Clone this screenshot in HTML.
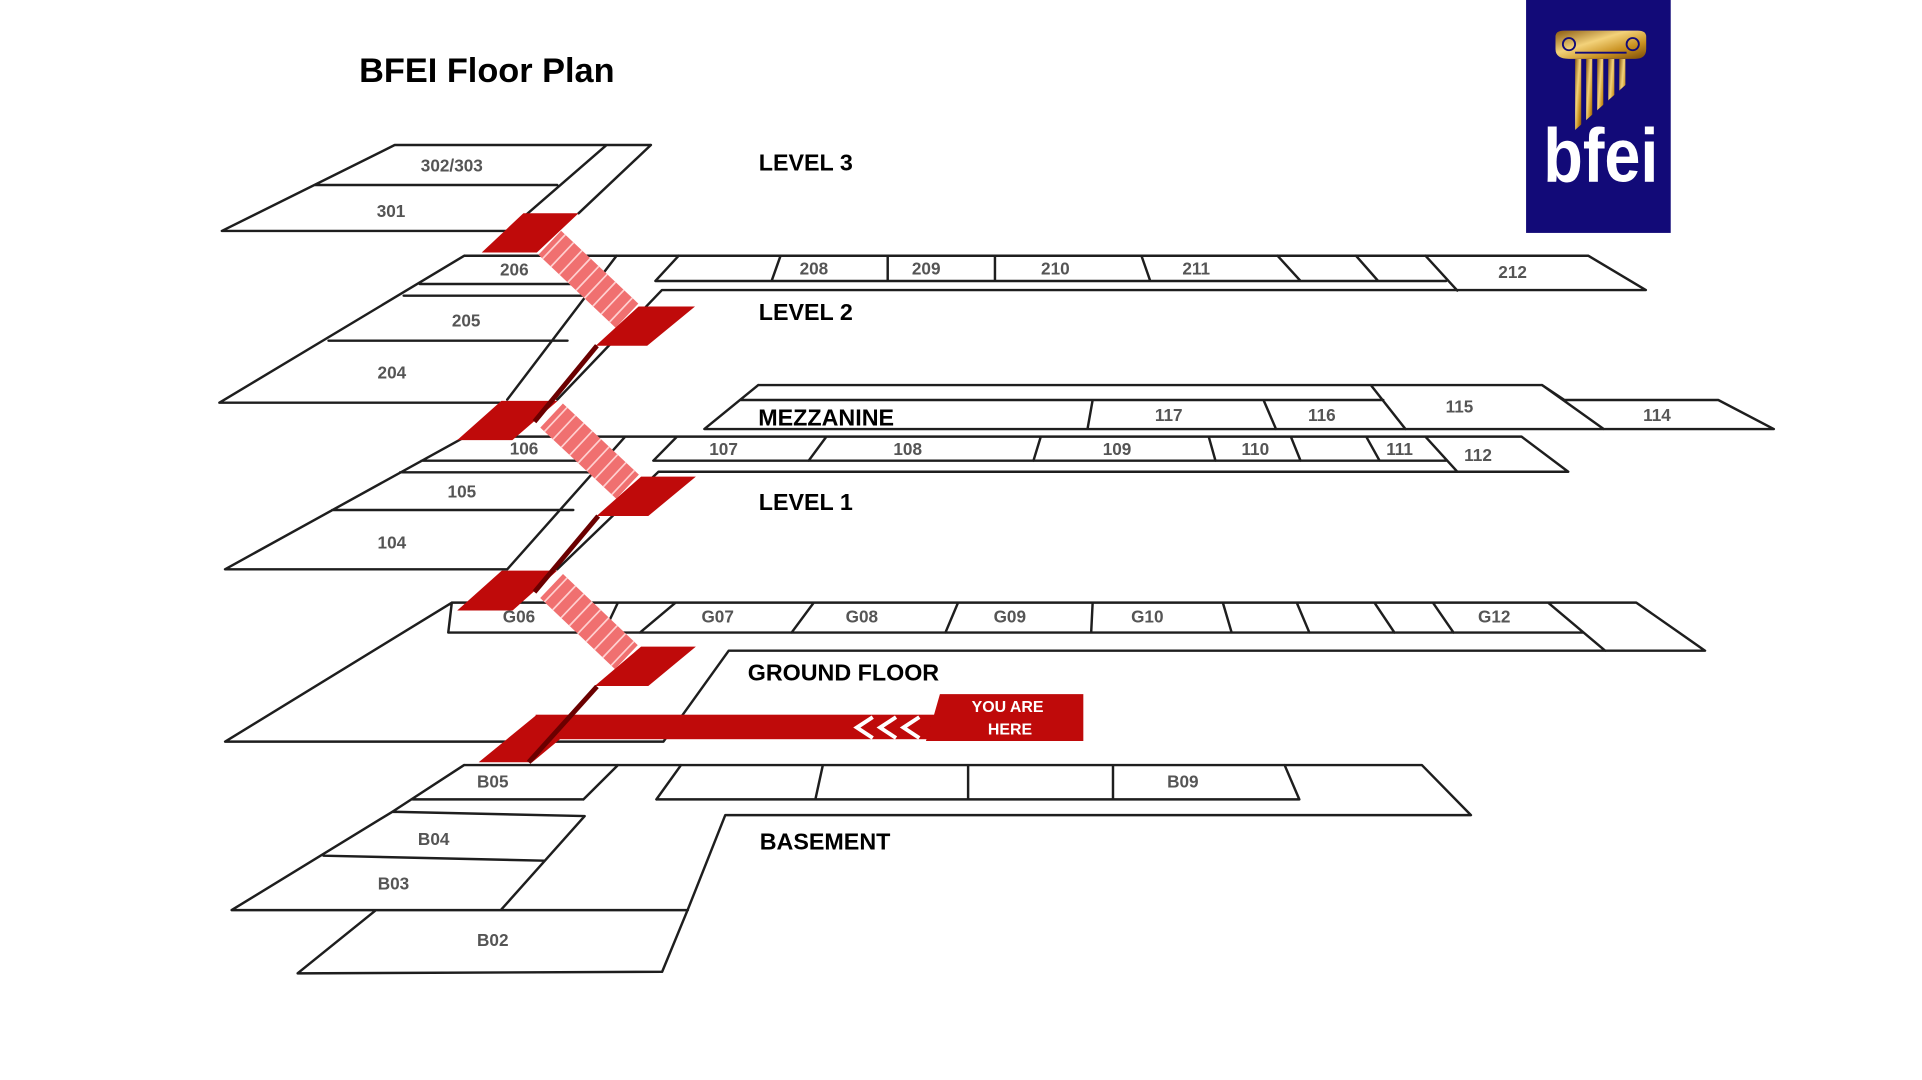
<!DOCTYPE html>
<html><head><meta charset="utf-8"><style>
html,body{margin:0;padding:0;background:#fff;}
svg{display:block;}
.l{fill:none;stroke:#1e1e1e;stroke-width:2;stroke-linejoin:round;stroke-linecap:round;}
.t{font-family:"Liberation Sans",sans-serif;font-weight:bold;font-size:14px;fill:#555;text-anchor:middle;dominant-baseline:central;}
.h{font-family:"Liberation Sans",sans-serif;font-weight:bold;font-size:19px;fill:#000;}
.r{fill:#bf0a0a;}
.dk{stroke:#6b0000;stroke-width:4;stroke-linecap:butt;}
</style></head><body>
<svg width="1922" height="1080" viewBox="0 0 1568 881" preserveAspectRatio="none" xmlns="http://www.w3.org/2000/svg">
<defs>
<linearGradient id="g" x1="0" y1="0" x2="1" y2="1">
<stop offset="0" stop-color="#8a5a10"/><stop offset="0.4" stop-color="#f3d27a"/><stop offset="0.7" stop-color="#c8901f"/><stop offset="1" stop-color="#7a4a08"/>
</linearGradient>
<clipPath id="cp"><polygon points="1283,48 1332,48 1332,64 1285,106"/></clipPath>
</defs>
<text x="293" y="67" style="font-family:'Liberation Sans',sans-serif;font-weight:bold;font-size:28px;fill:#000">BFEI Floor Plan</text>

<!-- logo -->
<rect x="1245" y="0" width="118" height="190" fill="#120a78"/>
<path d="M1269 30 Q1269 25 1276 25 L1336 25 Q1343 25 1343 30 L1343 40 Q1343 48 1334 48 L1280 48 Q1269 48 1269 40 Z" fill="url(#g)"/>
<circle cx="1280" cy="36" r="5" fill="none" stroke="#120a78" stroke-width="1.5"/>
<circle cx="1332" cy="36" r="5" fill="none" stroke="#120a78" stroke-width="1.5"/>
<line x1="1285" y1="43" x2="1327" y2="43" stroke="#120a78" stroke-width="1.5"/>
<g clip-path="url(#cp)" fill="url(#g)">
<rect x="1285" y="48" width="5" height="60"/>
<rect x="1294" y="48" width="5" height="60"/>
<rect x="1303" y="48" width="5" height="60"/>
<rect x="1312" y="48" width="5" height="60"/>
<rect x="1321" y="48" width="5" height="60"/>
</g>
<text x="1306" y="148" text-anchor="middle" textLength="94" lengthAdjust="spacingAndGlyphs" style="font-family:'Liberation Sans',sans-serif;font-weight:bold;font-size:62px;fill:#fff">bfei</text>

<!-- LEVEL 3 -->
<path class="l" d="M322 118.3 L531 118.3 M322 118.3 L181 188.4 L414 188.4 M494.8 118.3 L414 188.4 M531 118.3 L472 174 M257 150.9 L454.6 150.9"/>
<text class="t" x="368.6" y="135">302/303</text>
<text class="t" x="319" y="172">301</text>
<text class="h" x="619" y="139">LEVEL 3</text>

<!-- LEVEL 2 -->
<path class="l" d="M378.8 208.6 L1295.7 208.6 L1342.7 236.6 L540 236.6 L454.6 326 M378.8 208.6 L179 328.5 L413.8 328.5 M342.4 231.7 L466 231.7 M329.3 241.2 L476 241.2 M268 277.9 L463 277.9 M503 208.6 L413.8 326 M553.7 208.6 L534.7 229.2 L1179.8 229.2 M636.8 208.6 L629.5 229.2 M724.2 208.6 L724.2 229.2 M811.7 208.6 L811.7 229.2 M931.2 208.6 L938.4 229.2 M1042.2 208.6 L1061 229.2 M1106.2 208.6 L1124.3 229.2 M1162.9 208.6 L1188.9 237"/>
<text class="t" x="419.6" y="220">206</text>
<text class="t" x="380.3" y="261.6">205</text>
<text class="t" x="319.7" y="303.7">204</text>
<text class="t" x="664" y="219">208</text>
<text class="t" x="755.6" y="219">209</text>
<text class="t" x="861" y="219">210</text>
<text class="t" x="975.9" y="219">211</text>
<text class="t" x="1234" y="222">212</text>
<text class="h" x="619" y="261">LEVEL 2</text>

<!-- MEZZANINE -->
<path class="l" d="M618.6 314.1 L1258 314.1 L1276.3 326.3 L1401.8 326.3 L1447.1 350 L574.6 350 L618.6 314.1 M603.6 326.3 L1128.5 326.3 M891.4 326.3 L887.2 350 M1030.8 326.3 L1041 350 M1118.3 314.1 L1146.6 350 M1258 314.1 L1308.3 350"/>
<text class="h" x="618.6" y="347">MEZZANINE</text>
<text class="t" x="953.5" y="338.5">117</text>
<text class="t" x="1078.4" y="338.5">116</text>
<text class="t" x="1190.7" y="331.8">115</text>
<text class="t" x="1351.8" y="338.5">114</text>

<!-- LEVEL 1 -->
<path class="l" d="M379.7 356.2 L1241.3 356.2 L1279.4 384.8 L537.2 384.8 L454.6 464.4 M379.7 356.2 L183.6 464.4 L413.8 464.4 M343.9 375.8 L472 375.8 M326.4 385.3 L482.3 385.3 M271 416 L467.7 416 M510 356.2 L413.8 464.4 M552.3 356.2 L533 375.8 L1179.8 375.8 M674.2 356.2 L659.7 375.8 M849.1 356.2 L843.1 375.8 M986.1 356.2 L991.6 375.8 M1053.1 356.2 L1061 375.8 M1114.6 356.2 L1125.5 375.8 M1162.9 356.2 L1188.9 384.8"/>
<text class="t" x="427.5" y="366">106</text>
<text class="t" x="376.8" y="401">105</text>
<text class="t" x="319.7" y="442.6">104</text>
<text class="t" x="590.3" y="366.3">107</text>
<text class="t" x="740.5" y="366.3">108</text>
<text class="t" x="911.3" y="366.3">109</text>
<text class="t" x="1024.1" y="366.3">110</text>
<text class="t" x="1141.8" y="366.3">111</text>
<text class="t" x="1205.8" y="371.2">112</text>
<text class="h" x="619" y="416">LEVEL 1</text>

<!-- GROUND FLOOR -->
<path class="l" d="M368.6 491.6 L1334.9 491.6 L1391 530.8 L594.5 530.8 L541.2 605 L183.6 605 L368.6 491.6 M368.6 491.6 L365.7 516 L1291.4 516 M504.1 491.6 L492.5 516 M551.1 491.6 L522.1 516 M663.9 491.6 L645.8 516 M781.6 491.6 L771.3 516 M891.4 491.6 L890.2 516 M997.6 491.6 L1004.8 516 M1057.9 491.6 L1068.2 516 M1121.3 491.6 L1137.6 516 M1169 491.6 L1185.8 516 M1263 491.6 L1309.5 530.8"/>
<text class="t" x="423.4" y="503">G06</text>
<text class="t" x="585.5" y="503">G07</text>
<text class="t" x="703.1" y="503">G08</text>
<text class="t" x="823.8" y="503">G09</text>
<text class="t" x="936" y="503">G10</text>
<text class="t" x="1219" y="503">G12</text>
<text class="h" x="610" y="555">GROUND FLOOR</text>

<!-- BASEMENT -->
<path class="l" d="M378.6 624.1 L1160 624.1 L1200 664.9 L591.7 664.9 L561.2 741.8 L540.2 792.7 L242.8 794 L306 743 M378.6 624.1 L320.1 662.2 L189 742.4 L561.2 742.4 M336.5 652.1 L476 652.1 M535.5 652.1 L1060 652.1 M504.1 624.1 L476 652.1 M555.6 624.1 L535.5 652.1 M671.3 624.1 L665.2 652.1 M789.8 624.1 L789.8 652.1 M908 624.1 L908 652.1 M1048 624.1 L1060 652.1 M320.1 662.2 L477 665.7 L409.1 741.8 M263.9 698 L444.2 702.1"/>
<text class="t" x="402" y="637.7">B05</text>
<text class="t" x="353.8" y="684.5">B04</text>
<text class="t" x="321" y="720.6">B03</text>
<text class="t" x="402" y="766.8">B02</text>
<text class="t" x="965" y="637.7">B09</text>
<text class="h" x="619.8" y="693">BASEMENT</text>

<!-- stairs pink bands -->
<g stroke-linecap="butt">
<line x1="448.5" y1="198" x2="511.5" y2="257.5" stroke="#f07070" stroke-width="27"/>
<line x1="448.5" y1="198" x2="511.5" y2="257.5" stroke="#ffd0d0" stroke-width="27" stroke-dasharray="1.4 8" stroke-dashoffset="-4"/>
<line x1="450" y1="339" x2="512" y2="397" stroke="#f07070" stroke-width="27"/>
<line x1="450" y1="339" x2="512" y2="397" stroke="#ffd0d0" stroke-width="27" stroke-dasharray="1.4 8" stroke-dashoffset="-4"/>
<line x1="450" y1="478" x2="511" y2="536" stroke="#f07070" stroke-width="27"/>
<line x1="450" y1="478" x2="511" y2="536" stroke="#ffd0d0" stroke-width="27" stroke-dasharray="1.4 8" stroke-dashoffset="-4"/>
</g>

<!-- red platforms -->
<polygon class="r" points="393,206 427,174 472,174 438,206"/>
<polygon class="r" points="486,282 521,250 567,250 528,282"/>
<polygon class="r" points="373,359 409,327 455,327 418,359"/>
<polygon class="r" points="486.7,420.9 523,388.8 567.7,388.8 528.9,420.9"/>
<polygon class="r" points="373,498 409.4,465.5 454.6,465.5 418.2,498"/>
<polygon class="r" points="485.2,559.6 523,527.5 567.7,527.5 528.9,559.6"/>
<polygon class="r" points="390.5,621.8 437,583.8 480,583.8 434.2,621.8"/>
<rect class="r" x="437" y="583" width="330" height="20"/>
<polygon class="r" points="766.8,566.2 883.8,566.2 883.8,604.5 755.4,604.5 762,583"/>
<!-- dark connectors -->
<line class="dk" x1="487" y1="282" x2="436" y2="344"/>
<line class="dk" x1="488" y1="421" x2="436" y2="483"/>
<line class="dk" x1="487" y1="560" x2="431.3" y2="621.8"/>
<!-- chevrons -->
<g fill="none" stroke="#fff" stroke-width="3.2">
<polyline points="712,585 699,593.5 712,602"/>
<polyline points="731,585 718,593.5 731,602"/>
<polyline points="750,585 737,593.5 750,602"/>
</g>
<text x="822" y="581" text-anchor="middle" style="font-family:'Liberation Sans',sans-serif;font-weight:bold;font-size:13px;fill:#fff">YOU ARE</text>
<text x="824" y="599" text-anchor="middle" style="font-family:'Liberation Sans',sans-serif;font-weight:bold;font-size:13px;fill:#fff">HERE</text>
</svg>
</body></html>
